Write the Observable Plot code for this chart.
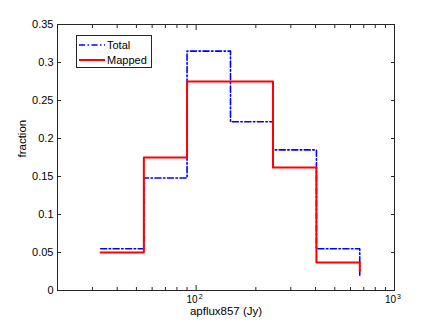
<!DOCTYPE html>
<html><head><meta charset="utf-8">
<script src="https://cdn.jsdelivr.net/npm/d3@7"></script>
<script src="https://cdn.jsdelivr.net/npm/@observablehq/plot@0.6"></script>
<style>
body{margin:0;background:#fff;font-family:"Liberation Sans",Arial,Helvetica,sans-serif;}
#wrap{position:relative;width:436px;height:327px;}
#legend{position:absolute;left:76px;top:35px;width:74px;height:31px;border:1px solid #262626;background:#fff;font-size:11px;color:#000;}
#legend .row{position:absolute;left:0;height:14px;width:74px;}
#legend svg{position:absolute;left:2px;top:5px;}
#legend span{position:absolute;left:30px;top:0;line-height:14px;}
</style>
</head><body>
<div id="wrap"><div id="chart"></div>
<div id="legend">
  <div class="row" style="top:2px"><svg width="26" height="4"><line x1="0" y1="2" x2="26" y2="2" stroke="#0000ff" stroke-width="1.6" stroke-dasharray="6,2.5,1.5,2.5"/></svg><span>Total</span></div>
  <div class="row" style="top:17px"><svg width="26" height="4"><line x1="0" y1="2" x2="26" y2="2" stroke="#ff0000" stroke-width="2"/></svg><span>Mapped</span></div>
</div>
</div>
<script>
// Data
const binEdges   = [33, 54.5, 90, 149, 244, 404, 668];
const totalFrac  = [0.055, 0.148, 0.315, 0.222, 0.185, 0.055, 0.02];
const mappedFrac = [0.05, 0.175, 0.275, 0.275, 0.162, 0.037, 0.026];
const yTicks      = [0, 0.05, 0.1, 0.15, 0.2, 0.25, 0.3, 0.35];
const yTickLabels = ["0", "0.05", "0.1", "0.15", "0.2", "0.25", "0.3", "0.35"];
const xMajor      = [100, 1000];
const xMajorExp   = ["2", "3"];
const xMinor      = [30, 40, 50, 60, 70, 80, 90, 200, 300, 400, 500, 600, 700, 800, 900];

const total  = binEdges.map((x, i) => ({x, y: totalFrac[i]}));
const mapped = binEdges.map((x, i) => ({x, y: mappedFrac[i]}));

const font = '"Liberation Sans", Arial, Helvetica, sans-serif';
const tick = {tickFormat: () => "", stroke: "#262626", label: null};
const chart = Plot.plot({
  width: 436, height: 327,
  marginLeft: 57, marginRight: 42, marginTop: 24, marginBottom: 37,
  x: {type: "log", domain: [20, 1000]},
  y: {domain: [0, 0.35]},
  style: {fontFamily: font, fontSize: "11px", color: "#000", background: "#fff"},
  marks: [
    Plot.line(total,  {x: "x", y: "y", curve: "step-after", stroke: "#0000ff", strokeWidth: 1.6, strokeDasharray: "6,2.5,1.5,2.5"}),
    Plot.line(mapped, {x: "x", y: "y", curve: "step-after", stroke: "#ff0000", strokeWidth: 2}),
    Plot.frame({stroke: "#262626"}),
    // ticks (inward)
    Plot.axisX(xMajor, {anchor: "bottom", tickSize: -5, ...tick}),
    Plot.axisX(xMajor, {anchor: "top", tickSize: -5, ...tick}),
    Plot.axisX(xMinor, {anchor: "bottom", tickSize: -3, ...tick}),
    Plot.axisX(xMinor, {anchor: "top", tickSize: -3, ...tick}),
    Plot.axisY(yTicks, {anchor: "left", tickSize: -4, ...tick}),
    Plot.axisY(yTicks, {anchor: "right", tickSize: -4, ...tick}),
    // tick labels
    Plot.axisY(yTicks, {anchor: "left", tickSize: 0, tickPadding: 4, tickFormat: (d, i) => yTickLabels[i], fontSize: 11, label: null}),
    Plot.text(xMajor, {x: d => d, text: () => "10", frameAnchor: "bottom", textAnchor: "end", dx: 1.5, dy: 12, fontSize: 10}),
    Plot.text(xMajor, {x: d => d, text: (d, i) => xMajorExp[i], frameAnchor: "bottom", textAnchor: "start", dx: 2.5, dy: 8.5, fontSize: 7}),
    // axis titles
    Plot.text(["fraction"], {text: d => d, frameAnchor: "left", rotate: -90, dx: -35, fontSize: 11.5}),
    Plot.text(["apflux857 (Jy)"], {text: d => d, frameAnchor: "bottom", dy: 24, fontSize: 11.5})
  ]
});
document.getElementById("chart").appendChild(chart);
</script>
</body></html>
